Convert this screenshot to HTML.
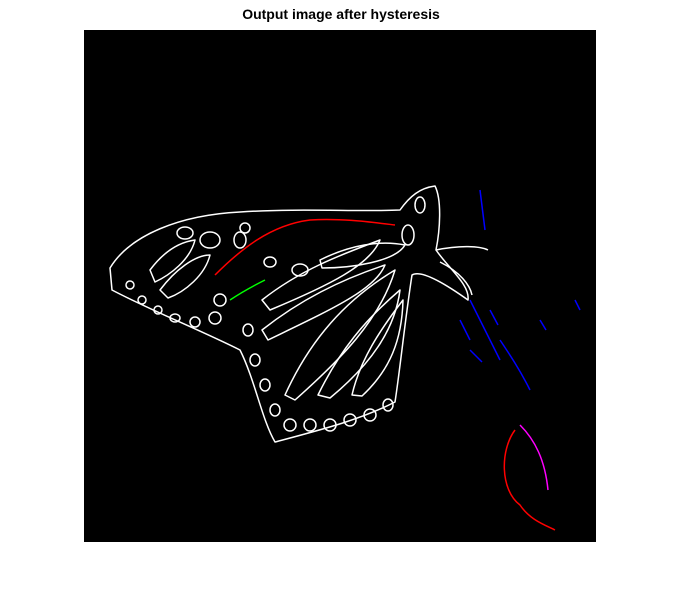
<!DOCTYPE html>
<html><head><meta charset="utf-8"><style>
body{margin:0;background:#fff;width:682px;height:603px;overflow:hidden;font-family:"Liberation Sans",sans-serif}
#title{position:absolute;left:0;width:682px;top:6px;text-align:center;font-weight:bold;font-size:14px;color:#000}
#img{position:absolute;left:84px;top:30px;width:512px;height:512px;background:#000}
</style></head><body>
<div id="title">Output image after hysteresis</div>
<svg id="img" width="512" height="512" viewBox="84 30 512 512" fill="none" stroke-width="1.5" stroke-linejoin="round">
<g stroke="#fff">
<path d="M110,268 C130,235 180,215 240,212 C300,208 360,212 400,210 C410,196 420,188 435,186 C442,200 440,230 436,250 C450,270 470,285 468,300 C440,280 420,270 412,275 C405,320 400,370 395,402 C360,420 320,430 275,442 C262,420 255,380 240,350 C200,330 150,310 112,290 Z"/>
<path d="M436,250 C460,245 480,246 488,250 M440,262 C460,272 470,285 472,295"/>
</g>
<g stroke="#fff">
<path d="M262,300 C300,270 340,255 380,240 C370,265 330,285 270,310 Z"/>
<path d="M262,330 C300,300 340,280 385,265 C375,290 330,310 268,340 Z"/>
<path d="M285,395 C310,340 345,300 395,270 C380,320 340,360 295,400 Z"/>
<path d="M318,395 C340,350 365,320 400,290 C395,330 370,365 330,398 Z"/>
<path d="M352,395 C360,360 380,330 403,300 C402,340 390,370 362,396 Z"/>
<path d="M320,260 C350,245 380,240 405,245 C395,262 350,268 322,268 Z"/>
<path d="M150,270 C165,250 180,242 195,240 C190,260 170,275 155,282 Z"/>
<path d="M160,290 C175,270 195,255 210,255 C205,275 185,292 168,298 Z"/>
</g>
<g stroke="#fff">
<ellipse cx="240" cy="240" rx="6" ry="8"/><ellipse cx="245" cy="228" rx="5" ry="5"/>
<ellipse cx="210" cy="240" rx="10" ry="8"/><ellipse cx="185" cy="233" rx="8" ry="6"/>
<ellipse cx="300" cy="270" rx="8" ry="6"/><ellipse cx="270" cy="262" rx="6" ry="5"/>
<ellipse cx="408" cy="235" rx="6" ry="10"/><ellipse cx="420" cy="205" rx="5" ry="8"/>
<ellipse cx="130" cy="285" rx="4" ry="4"/><ellipse cx="142" cy="300" rx="4" ry="4"/>
<ellipse cx="158" cy="310" rx="4" ry="4"/><ellipse cx="175" cy="318" rx="5" ry="4"/>
<ellipse cx="195" cy="322" rx="5" ry="5"/><ellipse cx="215" cy="318" rx="6" ry="6"/>
<ellipse cx="220" cy="300" rx="6" ry="6"/><ellipse cx="248" cy="330" rx="5" ry="6"/>
<ellipse cx="255" cy="360" rx="5" ry="6"/><ellipse cx="265" cy="385" rx="5" ry="6"/>
<ellipse cx="275" cy="410" rx="5" ry="6"/><ellipse cx="290" cy="425" rx="6" ry="6"/>
<ellipse cx="310" cy="425" rx="6" ry="6"/><ellipse cx="330" cy="425" rx="6" ry="6"/>
<ellipse cx="350" cy="420" rx="6" ry="6"/><ellipse cx="370" cy="415" rx="6" ry="6"/>
<ellipse cx="388" cy="405" rx="5" ry="6"/>
</g>
<g>
<path d="M215,275 C240,250 270,225 310,220 C340,218 370,222 395,225" stroke="#f00"/>
<path d="M230,300 C245,290 255,285 265,280" stroke="#0f0"/>
<path d="M480,190 L485,230 M470,300 C480,320 490,340 500,360 M500,340 C510,355 520,370 530,390" stroke="#00f"/>
<path d="M515,430 C500,450 500,490 520,505 C530,520 545,525 555,530" stroke="#f00"/>
<path d="M520,425 C535,440 545,460 548,490" stroke="#f0f"/>
<path d="M460,320 l10,20 M490,310 l8,15 M540,320 l6,10 M470,350 l12,12 M575,300 l5,10" stroke="#00f"/>
</g>
</svg>
</body></html>
